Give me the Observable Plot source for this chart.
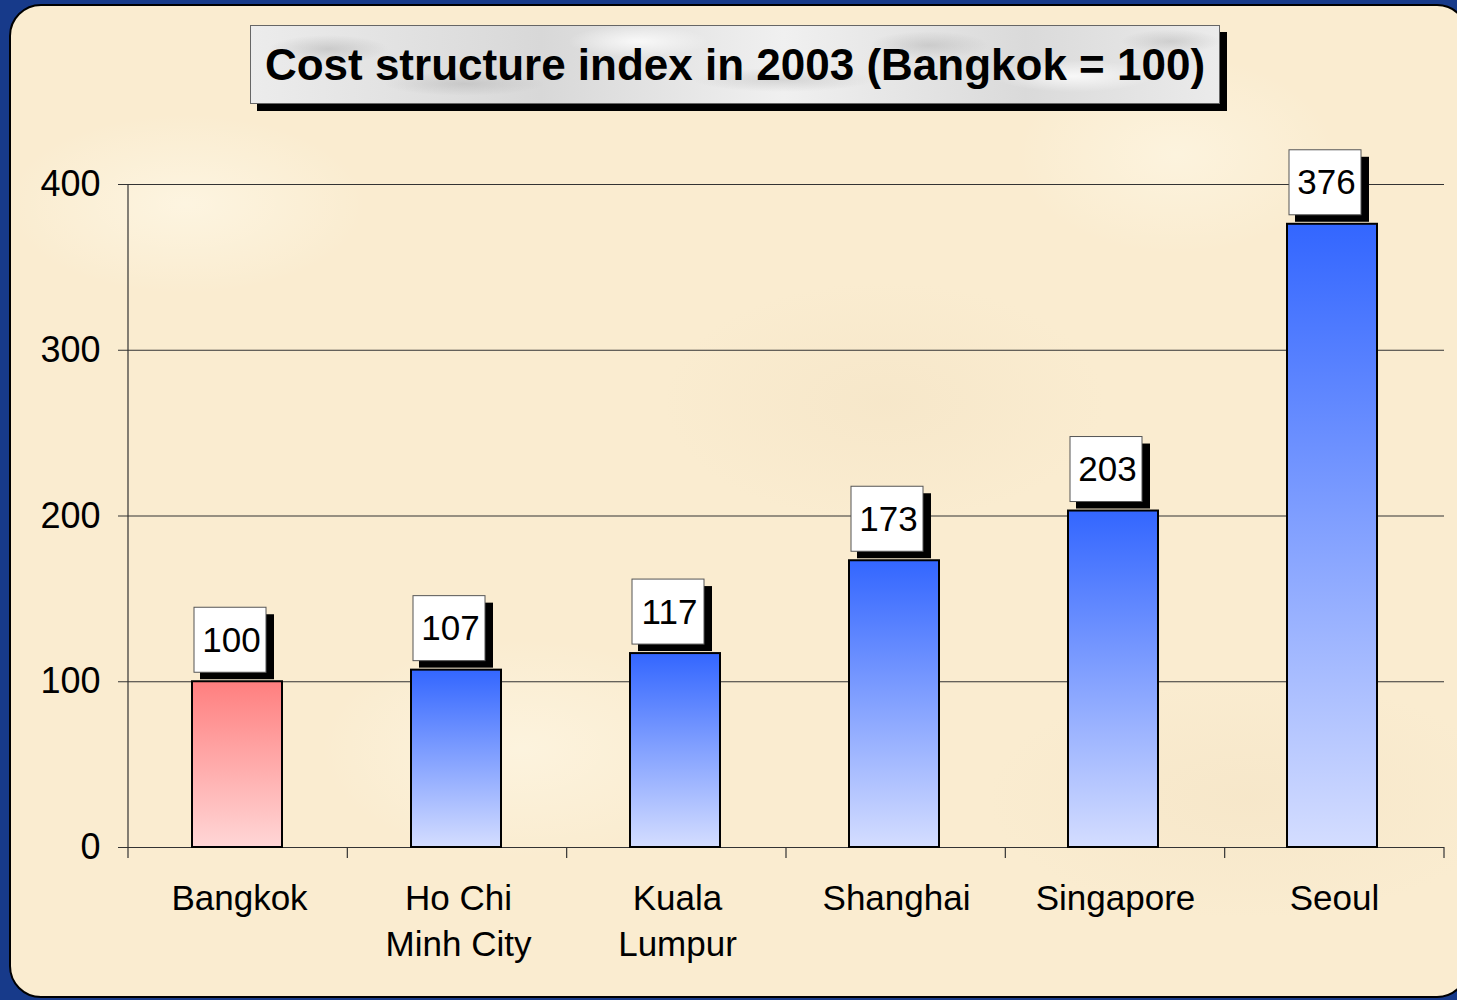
<!DOCTYPE html>
<html>
<head>
<meta charset="utf-8">
<script src="https://cdn.jsdelivr.net/npm/d3@7"></script>
<script src="https://cdn.jsdelivr.net/npm/@observablehq/plot@0.6"></script>
<style>
  html, body { margin: 0; padding: 0; }
  body { width: 1457px; height: 1000px; background: #173a8a; overflow: hidden; position: relative; font-family: "Liberation Sans", Arial, sans-serif; }
  #panel {
    position: absolute; left: 9px; top: 4px; width: 1460px; height: 994px;
    border: 2px solid #000; border-radius: 32px; box-sizing: border-box;
    background-color: #faecd0;
    background-image:
      radial-gradient(ellipse 180px 90px at 12% 20%, rgba(255,250,235,0.6), transparent),
      radial-gradient(ellipse 220px 120px at 60% 40%, rgba(240,222,190,0.35), transparent),
      radial-gradient(ellipse 200px 110px at 35% 75%, rgba(255,250,235,0.5), transparent),
      radial-gradient(ellipse 260px 120px at 85% 80%, rgba(240,222,190,0.35), transparent),
      radial-gradient(ellipse 160px 100px at 80% 15%, rgba(255,250,235,0.5), transparent);
  }
  #chart { position: absolute; left: 0; top: 0; }
  #title {
    position: absolute; left: 250px; top: 25px; width: 970px; height: 79px;
    box-sizing: border-box; border: 1px solid #666;
    box-shadow: 7px 7px 0 #000;
    background-color: #e2e2e2;
    background-image:
      radial-gradient(ellipse 60px 14px at 8% 30%, rgba(150,150,150,0.35), transparent),
      radial-gradient(ellipse 80px 12px at 22% 75%, rgba(160,160,160,0.35), transparent),
      radial-gradient(ellipse 70px 16px at 40% 20%, rgba(255,255,255,0.8), transparent),
      radial-gradient(ellipse 90px 12px at 55% 70%, rgba(150,150,150,0.3), transparent),
      radial-gradient(ellipse 60px 14px at 70% 25%, rgba(160,160,160,0.35), transparent),
      radial-gradient(ellipse 80px 16px at 85% 65%, rgba(255,255,255,0.8), transparent),
      radial-gradient(ellipse 50px 12px at 95% 20%, rgba(150,150,150,0.3), transparent),
      linear-gradient(90deg, #ececec, #d8d8d8 30%, #f0f0f0 55%, #dadada 80%, #ebebeb);
    display: flex; align-items: center; justify-content: center;
    font-weight: bold; font-size: 44px; color: #000; white-space: nowrap;
  }
</style>
</head>
<body>
<div id="panel"></div>
<div id="chart"></div>
<div id="title">Cost structure index in 2003 (Bangkok = 100)</div>
<script>
const categories = ["Bangkok", "Ho Chi Minh City", "Kuala Lumpur", "Shanghai", "Singapore", "Seoul"];
const tickLabels = ["Bangkok", "Ho Chi\nMinh City", "Kuala\nLumpur", "Shanghai", "Singapore", "Seoul"];
const values = [100, 107, 117, 173, 203, 376];
const fillIds = ["gradRed", "gradBlue", "gradBlue", "gradBlue", "gradBlue", "gradBlue"];
const yTicks = [0, 100, 200, 300, 400];

const data = categories.map((c, i) => ({city: c, value: values[i], fill: `url(#${fillIds[i]})`}));

const defsMark = () => {
  const defs = d3.create("svg:defs");
  const blue = defs.append("linearGradient").attr("id", "gradBlue").attr("x1", 0).attr("y1", 0).attr("x2", 0).attr("y2", 1);
  blue.append("stop").attr("offset", "0%").attr("stop-color", "#3366ff");
  blue.append("stop").attr("offset", "100%").attr("stop-color", "#d4ddff");
  const red = defs.append("linearGradient").attr("id", "gradRed").attr("x1", 0).attr("y1", 0).attr("x2", 0).attr("y2", 1);
  red.append("stop").attr("offset", "0%").attr("stop-color", "#ff7f7f");
  red.append("stop").attr("offset", "100%").attr("stop-color", "#ffd6d6");
  return defs.node();
};

// vertical axis line and band-boundary ticks on the x axis
const frameMark = (index, scales, values, dims) => {
  const g = d3.create("svg:g").attr("stroke", "#333").attr("stroke-width", 1.2);
  const left = dims.marginLeft, right = dims.width - dims.marginRight;
  const top = dims.marginTop, bottom = dims.height - dims.marginBottom;
  g.append("line").attr("x1", left).attr("x2", left).attr("y1", top).attr("y2", bottom + 11);
  const n = categories.length;
  for (let k = 1; k <= n; k++) {
    const x = left + k * (right - left) / n;
    g.append("line").attr("x1", x).attr("x2", x).attr("y1", bottom).attr("y2", bottom + 11);
  }
  return g.node();
};

const chart = Plot.plot({
  width: 1457,
  height: 1000,
  marginLeft: 128,
  marginRight: 13,
  marginTop: 184,
  marginBottom: 153,
  style: {background: "transparent", color: "#000", fontFamily: "'Liberation Sans', Arial, sans-serif"},
  x: {domain: categories, paddingInner: 0.59, paddingOuter: 0.295, label: null},
  y: {domain: [0, 400], label: null},
  marks: [
    defsMark,
    Plot.gridY(yTicks.filter(d => d > 0), {stroke: "#333", strokeOpacity: 1, strokeWidth: 1}),
    Plot.axisY({ticks: yTicks, tickSize: 10, tickPadding: 18, fontSize: 36, stroke: "#333"}),
    Plot.axisX({tickSize: 0, tickPadding: 30, fontSize: 35, lineHeight: 1.31, tickFormat: d => tickLabels[categories.indexOf(d)]}),
    Plot.ruleY([0], {stroke: "#333", strokeWidth: 1.2}),
    frameMark,
    Plot.barY(data, {x: "city", y: "value", fill: "fill", stroke: "#000", strokeWidth: 2, dx: -2}),
    // label box shadow
    Plot.barY(data, {x: "city", y1: "value", y2: "value", fill: "#000", insetLeft: 6, insetRight: 10, insetTop: -67, insetBottom: 2}),
    // label box
    Plot.barY(data, {x: "city", y1: "value", y2: "value", fill: "#fff", stroke: "#555", strokeWidth: 1, insetLeft: 0, insetRight: 18, insetTop: -74, insetBottom: 9}),
    Plot.text(data, {x: "city", y: "value", text: d => String(d.value), dx: -8, dy: -41, fontSize: 35, fill: "#000"})
  ]
});
document.getElementById("chart").appendChild(chart);
</script>
</body>
</html>
